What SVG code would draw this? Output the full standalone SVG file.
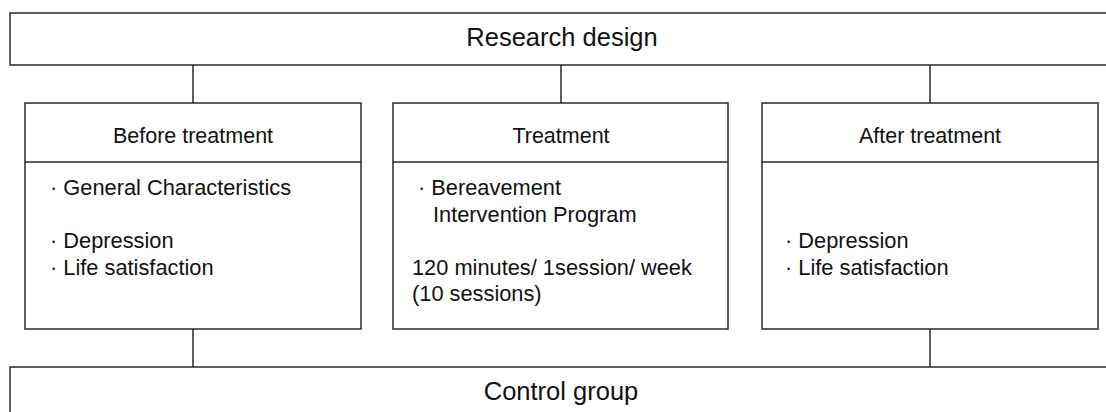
<svg xmlns="http://www.w3.org/2000/svg" width="1106" height="412" viewBox="0 0 1106 412">
<style>
.box{fill:#fff;stroke:#2a2a2a;stroke-width:1.5}
.ln{stroke:#2a2a2a;stroke-width:1.5;fill:none}
text{font-family:"Liberation Sans",Arial,Helvetica,sans-serif;fill:#111}
.big{font-size:25.5px;text-anchor:middle}
.hd{font-size:21.5px;text-anchor:middle}
.bd{font-size:21.8px}
</style>
<rect width="1106" height="412" fill="#fff"/>
<g id="connectors">
<line class="ln" x1="193" y1="65" x2="193" y2="103"/>
<line class="ln" x1="561" y1="65" x2="561" y2="103"/>
<line class="ln" x1="930" y1="65" x2="930" y2="103"/>
<line class="ln" x1="193" y1="329" x2="193" y2="367"/>
<line class="ln" x1="930" y1="329" x2="930" y2="367"/>
</g>
<g id="research-design">
<rect class="box" x="10" y="13" width="1110" height="52"/>
<text class="big" x="562" y="46">Research design</text>
</g>
<g id="before-treatment">
<rect class="box" x="25" y="103" width="336" height="226"/>
<line class="ln" x1="25" y1="162" x2="361" y2="162"/>
<text class="hd" x="193" y="143">Before treatment</text>
<text class="bd" x="50" y="195">· General Characteristics</text>
<text class="bd" x="50" y="248">· Depression</text>
<text class="bd" x="50" y="275">· Life satisfaction</text>
</g>
<g id="treatment">
<rect class="box" x="393" y="103" width="335" height="226"/>
<line class="ln" x1="393" y1="162" x2="728" y2="162"/>
<text class="hd" x="561" y="143">Treatment</text>
<text class="bd" x="418" y="195">· Bereavement</text>
<text class="bd" x="433" y="221.5">Intervention Program</text>
<text class="bd" x="412" y="274.5">120 minutes/ 1session/ week</text>
<text class="bd" x="412" y="301">(10 sessions)</text>
</g>
<g id="after-treatment">
<rect class="box" x="762" y="103" width="336" height="226"/>
<line class="ln" x1="762" y1="162" x2="1098" y2="162"/>
<text class="hd" x="930" y="143">After treatment</text>
<text class="bd" x="785" y="248">· Depression</text>
<text class="bd" x="785" y="275">· Life satisfaction</text>
</g>
<g id="control-group">
<rect class="box" x="10" y="367" width="1110" height="60"/>
<text class="big" x="561" y="400">Control group</text>
</g>
</svg>
